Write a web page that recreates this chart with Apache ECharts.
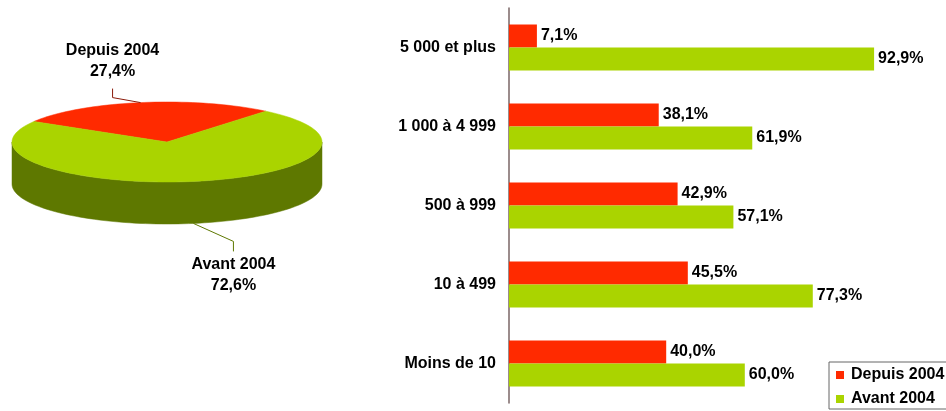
<!DOCTYPE html>
<html>
<head>
<meta charset="utf-8">
<script src="https://cdn.jsdelivr.net/npm/echarts@6/dist/echarts.min.js"></script>
<style>
  html, body { margin: 0; padding: 0; background: #fff; }
  #myChart { width: 946px; height: 411px; }
</style>
</head>
<body>
<div id="myChart"></div>
<script>
  // données
  var categories = ['5 000 et plus', '1 000 à 4 999', '500 à 999', '10 à 499', 'Moins de 10'];
  var depuis2004 = [7.1, 38.1, 42.9, 45.5, 40.0];
  var avant2004 = [92.9, 61.9, 57.1, 77.3, 60.0];
  var pieNames = ['Depuis 2004', 'Avant 2004'];
  var pieValues = [27.4, 72.6];

  var RED = '#ff2a00';
  var GREEN = '#aad400';
  var FONT = '"Liberation Sans", Arial, sans-serif';

  // mise en page du camembert 3D
  var PIE = { cx: 167, cy: 142, rx: 155, ry: 40, depth: 42, startAngle: 50.5 };
  var pieColors = [RED, GREEN];
  var sideColors = ['#a01800', '#5e7800'];
  var lineColors = ['#8a1a0a', '#5e7800'];
  // coude des lignes de rappel (dx, dy) puis segment vertical
  var leader = [{ dx: -28, dy: -5, v: -9 }, { dx: 40, dy: 18, v: 10 }];

  function fmt(v) { return v.toFixed(1).replace('.', ',') + '%'; }

  function renderPie(params, api) {
    var i = params.dataIndex;
    var total = pieValues.reduce(function (a, b) { return a + b; }, 0);
    var start = PIE.startAngle;
    for (var j = 0; j < i; j++) start += pieValues[j] / total * 360;
    var span = api.value(0) / total * 360;
    var end = start + span;
    function pt(a, dy) {
      var r = a * Math.PI / 180;
      return [PIE.cx + PIE.rx * Math.cos(r), PIE.cy - PIE.ry * Math.sin(r) + (dy || 0)];
    }
    var children = [];
    // paroi avant (angles 180..360)
    [0, 360].forEach(function (off) {
      var lo = Math.max(start, 180 + off), hi = Math.min(end, 360 + off);
      if (hi > lo) {
        var pts = [], a;
        for (a = lo; a < hi; a += 2) pts.push(pt(a));
        pts.push(pt(hi));
        for (a = hi; a > lo; a -= 2) pts.push(pt(a, PIE.depth));
        pts.push(pt(lo, PIE.depth));
        children.push({ type: 'polygon', shape: { points: pts }, style: { fill: sideColors[i], stroke: sideColors[i], lineWidth: 0.5 } });
      }
    });
    // face supérieure
    var top = [[PIE.cx, PIE.cy]];
    for (var a = start; a < end; a += 2) top.push(pt(a));
    top.push(pt(end));
    children.push({ type: 'polygon', shape: { points: top }, style: { fill: pieColors[i], stroke: pieColors[i], lineWidth: 0.5 } });
    // ligne de rappel + étiquette
    var mid = start + span / 2;
    var front = Math.sin(mid * Math.PI / 180) < 0;
    var p0 = pt(mid, front ? PIE.depth : 0);
    var L = leader[i];
    var p1 = [p0[0] + L.dx, p0[1] + L.dy];
    var p2 = [p1[0], p1[1] + L.v];
    children.push({ type: 'polyline', shape: { points: [p0, p1, p2] }, style: { stroke: lineColors[i], lineWidth: 1, fill: null } });
    children.push({
      type: 'text',
      style: {
        text: pieNames[i] + '\n' + fmt(api.value(0)),
        x: p2[0], y: L.v < 0 ? p2[1] - 6 : p2[1] + 3,
        align: 'center', verticalAlign: L.v < 0 ? 'bottom' : 'top',
        font: 'bold 16px ' + FONT, lineHeight: 21, fill: '#000'
      }
    });
    return { type: 'group', children: children };
  }

  var myChart = echarts.init(document.getElementById('myChart'));
  var option = {
    animation: false,
    textStyle: { fontFamily: FONT },
    legend: {
      orient: 'vertical',
      left: 829, top: 362,
      data: ['Depuis 2004', 'Avant 2004'],
      icon: 'rect',
      itemWidth: 8, itemHeight: 8, itemGap: 8,
      padding: [5, 4, 2, 7],
      borderColor: '#666', borderWidth: 1, borderRadius: 0,
      textStyle: { fontSize: 16, fontWeight: 'bold', color: '#000', fontFamily: FONT, padding: [0, 0, 0, 2] }
    },
    grid: { left: 509, top: 8, bottom: 8, right: 44, containLabel: false },
    xAxis: { type: 'value', min: 0, max: 100, show: false },
    yAxis: {
      type: 'category', data: categories, inverse: true,
      axisLine: { lineStyle: { color: '#7a6666', width: 1.5 } },
      axisTick: { length: 4, lineStyle: { color: '#7a6666' } },
      axisLabel: { margin: 13, fontSize: 16, fontWeight: 'bold', color: '#000', fontFamily: FONT }
    },
    series: [
      {
        name: 'Depuis 2004', type: 'bar', data: depuis2004, barWidth: 23, barGap: '0%',
        itemStyle: { color: RED },
        label: { show: true, position: 'right', distance: 4, fontSize: 16, fontWeight: 'bold', color: '#000', fontFamily: FONT,
          formatter: function (p) { return fmt(p.value); } }
      },
      {
        name: 'Avant 2004', type: 'bar', data: avant2004, barWidth: 23, barGap: '0%',
        itemStyle: { color: GREEN },
        label: { show: true, position: 'right', distance: 4, fontSize: 16, fontWeight: 'bold', color: '#000', fontFamily: FONT,
          formatter: function (p) { return fmt(p.value); } }
      },
      {
        type: 'custom', coordinateSystem: 'none', silent: true,
        data: pieValues.map(function (v) { return [v]; }),
        renderItem: renderPie
      }
    ]
  };
  myChart.setOption(option);
</script>
</body>
</html>
